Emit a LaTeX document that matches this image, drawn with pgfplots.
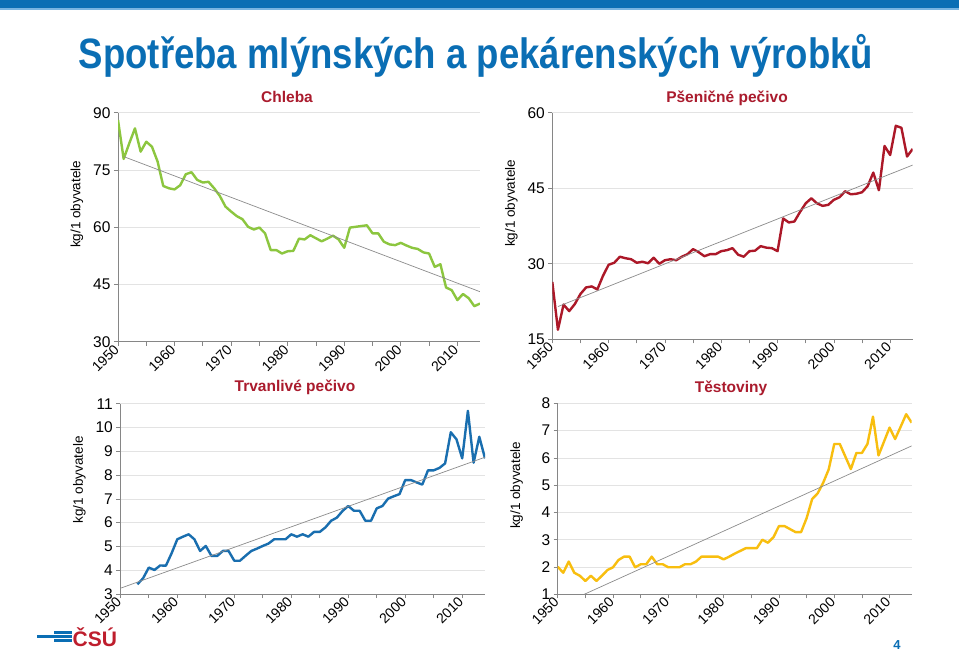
\documentclass[border=0pt]{standalone}
\usepackage{fontspec}
\setmainfont{Liberation Sans}
\usepackage{pgfplots}
\usepackage{pgfplotstable}
\pgfplotsset{compat=1.18}

\definecolor{csublue}{RGB}{10,110,180}
\definecolor{lightbar}{RGB}{120,180,225}
\definecolor{titlered}{RGB}{170,27,45}
\definecolor{logored}{RGB}{190,30,45}
\definecolor{cgreen}{RGB}{140,198,63}
\definecolor{cred}{RGB}{172,24,40}
\definecolor{cblue}{RGB}{25,110,175}
\definecolor{cyellow}{RGB}{248,190,15}
\definecolor{axgray}{RGB}{134,134,134}
\definecolor{trendgray}{RGB}{140,140,140}

\pgfplotstableread{
year val
1950 88.1
1951 77.9
1952 82.0
1953 85.9
1954 79.8
1955 82.4
1956 81.1
1957 77.2
1958 70.8
1959 70.2
1960 69.9
1961 71.0
1962 73.9
1963 74.4
1964 72.4
1965 71.7
1966 71.9
1967 70.2
1968 68.2
1969 65.4
1970 64.1
1971 62.9
1972 62.1
1973 60.1
1974 59.4
1975 59.9
1976 58.4
1977 54.0
1978 54.0
1979 53.1
1980 53.7
1981 53.8
1982 57.0
1983 56.8
1984 57.9
1985 57.1
1986 56.3
1987 57.0
1988 57.8
1989 56.8
1990 54.6
1991 59.9
1992 60.1
1993 60.3
1994 60.5
1995 58.4
1996 58.4
1997 56.2
1998 55.5
1999 55.3
2000 55.9
2001 55.2
2002 54.6
2003 54.3
2004 53.4
2005 53.1
2006 49.6
2007 50.3
2008 44.2
2009 43.5
2010 40.9
2011 42.5
2012 41.4
2013 39.3
2014 40.0
}\chleba

\pgfplotstableread{
year val
1950 26.4
1951 16.9
1952 21.9
1953 20.6
1954 22.0
1955 24.0
1956 25.3
1957 25.5
1958 24.9
1959 27.6
1960 29.8
1961 30.2
1962 31.4
1963 31.1
1964 30.9
1965 30.2
1966 30.4
1967 30.1
1968 31.2
1969 30.0
1970 30.7
1971 30.9
1972 30.7
1973 31.4
1974 31.9
1975 32.9
1976 32.3
1977 31.5
1978 31.9
1979 31.9
1980 32.5
1981 32.7
1982 33.1
1983 31.8
1984 31.4
1985 32.5
1986 32.6
1987 33.5
1988 33.2
1989 33.1
1990 32.5
1991 39.0
1992 38.2
1993 38.4
1994 40.3
1995 42.0
1996 43.0
1997 42.0
1998 41.5
1999 41.7
2000 42.7
2001 43.2
2002 44.4
2003 43.8
2004 43.9
2005 44.2
2006 45.4
2007 48.1
2008 44.6
2009 53.4
2010 51.6
2011 57.4
2012 57.0
2013 51.3
2014 52.8
}\psenicne

\pgfplotstableread{
year val
1953 3.41
1954 3.66
1955 4.11
1956 4.01
1957 4.20
1958 4.19
1959 4.71
1960 5.30
1961 5.41
1962 5.51
1963 5.30
1964 4.81
1965 5.02
1966 4.60
1967 4.60
1968 4.81
1969 4.81
1970 4.40
1971 4.40
1972 4.61
1973 4.81
1974 4.91
1975 5.02
1976 5.12
1977 5.30
1978 5.30
1979 5.30
1980 5.51
1981 5.41
1982 5.51
1983 5.41
1984 5.61
1985 5.61
1986 5.80
1987 6.08
1988 6.21
1989 6.49
1990 6.70
1991 6.50
1992 6.50
1993 6.08
1994 6.08
1995 6.60
1996 6.70
1997 7.01
1998 7.11
1999 7.20
2000 7.79
2001 7.79
2002 7.69
2003 7.60
2004 8.20
2005 8.20
2006 8.30
2007 8.49
2008 9.80
2009 9.50
2010 8.70
2011 10.70
2012 8.52
2013 9.61
2014 8.70
}\trvanlive

\pgfplotstableread{
year val
1950 2.01
1951 1.79
1952 2.20
1953 1.79
1954 1.68
1955 1.49
1956 1.68
1957 1.49
1958 1.68
1959 1.89
1960 1.99
1961 2.26
1962 2.38
1963 2.38
1964 1.99
1965 2.10
1966 2.10
1967 2.38
1968 2.10
1969 2.10
1970 1.99
1971 1.99
1972 1.99
1973 2.10
1974 2.10
1975 2.20
1976 2.38
1977 2.38
1978 2.38
1979 2.38
1980 2.28
1981 2.38
1982 2.49
1983 2.59
1984 2.69
1985 2.69
1986 2.69
1987 3.00
1988 2.89
1989 3.09
1990 3.50
1991 3.50
1992 3.39
1993 3.28
1994 3.28
1995 3.79
1996 4.49
1997 4.70
1998 5.09
1999 5.58
2000 6.51
2001 6.51
2002 6.05
2003 5.59
2004 6.18
2005 6.18
2006 6.51
2007 7.51
2008 6.09
2009 6.60
2010 7.11
2011 6.69
2012 7.14
2013 7.60
2014 7.29
}\testoviny

\pgfplotsset{
  panel/.style={
    scale only axis, anchor=south west,
    axis lines*=left,
    axis line style={axgray, line width=0.7pt},
    tick style={axgray, line width=0.7pt},
    major tick length=4pt, minor tick length=4pt,
    tick align=outside,
    xmin=1950, xmax=2014,
    xtick={1950,1960,...,2010},
    minor xtick={1955,1965,...,2005},
    xticklabel style={rotate=45, anchor=east, font=\fontsize{14}{14}\selectfont, inner sep=2pt},
    yticklabel style={font=\fontsize{15.5}{15.5}\selectfont},
    ymajorgrids,
    grid style={black!11, line width=0.6pt},
    /pgf/number format/assume math mode=true,
    /pgf/number format/1000 sep={},
    ylabel={kg/1 obyvatele},
    ylabel style={font=\fontsize{13.5}{13.5}\selectfont, at={(axis description cs:0,0.6)}, yshift=41pt, anchor=center},
  },
  dataline/.style={line width=2.4pt, line join=round},
  trend/.style={trendgray, line width=0.7pt},
}

\begin{document}
\begin{tikzpicture}
\fill[white] (0pt,0pt) rectangle (959pt,-652pt);
\fill[csublue] (0pt,0pt) rectangle (959pt,-8pt);
\fill[lightbar] (0pt,-8pt) rectangle (959pt,-10pt);
\node[text=csublue, font=\bfseries\fontsize{42.5}{42.5}\selectfont] at (476pt,-56pt) {\scalebox{0.86}[1]{Spotřeba mlýnských a pekárenských výrobků}};

% Chleba
\begin{axis}[panel, at={(118pt,-341.7pt)}, width=362pt, height=229pt,
  ymin=30, ymax=90, ytick={30,45,60,75,90}]
\addplot[dataline, cgreen] table[x=year, y=val] {\chleba};
\addplot[trend] coordinates {(1951,78.5) (2014,43.1)};
\end{axis}

% Psenicne pecivo
\begin{axis}[panel, at={(552.3pt,-339.3pt)}, width=360.4pt, height=226.6pt,
  ymin=15, ymax=60, ytick={15,30,45,60}]
\addplot[dataline, cred] table[x=year, y=val] {\psenicne};
\addplot[trend] coordinates {(1951,21.5) (2014,49.6)};
\end{axis}

% Trvanlive pecivo
\begin{axis}[panel, at={(120.3pt,-594pt)}, width=364.7pt, height=190.3pt,
  ymin=3, ymax=11, ytick={3,4,...,11}]
\addplot[dataline, cblue] table[x=year, y=val] {\trvanlive};
\addplot[trend] coordinates {(1950,3.24) (2014,8.75)};
\end{axis}

% Testoviny
\begin{axis}[panel, at={(557.7pt,-594.3pt)}, width=354pt, height=191pt,
  ymin=1, ymax=8, ytick={1,2,...,8},
  ylabel style={at={(axis description cs:0,0.57)}}]
\addplot[dataline, cyellow] table[x=year, y=val] {\testoviny};
\addplot[trend] coordinates {(1954.8,1.0) (2014,6.44)};
\end{axis}

% panel titles
\node[text=titlered, font=\bfseries\fontsize{15.5}{15.5}\selectfont] at (287pt,-97pt) {Chleba};
\node[text=titlered, font=\bfseries\fontsize{15.5}{15.5}\selectfont] at (727pt,-98pt) {Pšeničné pečivo};
\node[text=titlered, font=\bfseries\fontsize{15.5}{15.5}\selectfont] at (295pt,-387pt) {Trvanlivé pečivo};
\node[text=titlered, font=\bfseries\fontsize{15.5}{15.5}\selectfont] at (731pt,-388pt) {Těstoviny};

% logo
\fill[csublue] (37pt,-635pt) rectangle (56pt,-638pt);
\fill[csublue] (54pt,-631pt) rectangle (72pt,-634pt);
\fill[csublue] (54pt,-635pt) rectangle (72pt,-638pt);
\fill[csublue] (54pt,-639pt) rectangle (72pt,-642pt);
\node[anchor=west, text=logored, font=\bfseries\fontsize{21}{21}\selectfont, inner sep=0pt] at (72.5pt,-637pt) {ČSÚ};

% page number
\node[text=csublue, font=\bfseries\fontsize{13}{13}\selectfont] at (897pt,-645pt) {4};

\pgfresetboundingbox
\useasboundingbox (0pt,0pt) rectangle (959pt,-652pt);
\end{tikzpicture}
\end{document}
